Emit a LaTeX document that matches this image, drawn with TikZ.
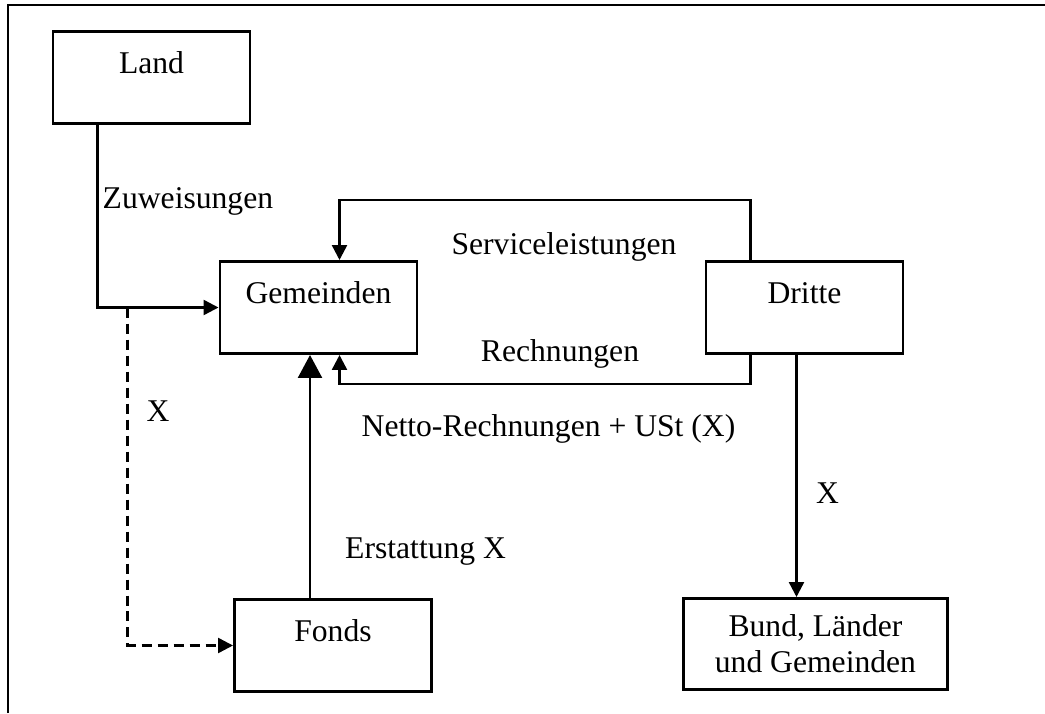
\documentclass[tikz,border=0pt]{standalone}
\usepackage{fontspec}
\setmainfont{Liberation Serif}
\usetikzlibrary{positioning,calc,arrows.meta}

\newcommand{\cellwidth}{3.94cm}
\newcommand{\widecellwidth}{5.28cm}
\newcommand{\lineoffset}{0.92cm}
\newcommand{\loopheight}{1.2cm}
\newcommand{\loopin}{2.42cm}

\tikzstyle{cell}=[draw=black,fill=white,shape=rectangle,line width=1.7pt,
                  minimum width=\cellwidth,inner ysep=0.2cm,
                  text height=0.64cm,text depth=0.8cm]
\tikzstyle{widecell}=[draw=black,fill=white,shape=rectangle,line width=1.7pt,
                      minimum width=\widecellwidth,minimum height=1.82cm,align=center]
\tikzstyle{flow}=[-{Triangle[length=0.3cm,width=0.3cm]},line width=1.4pt]
\tikzstyle{refund}=[-{Triangle[length=0.46cm,width=0.48cm]},line width=1.4pt]
\tikzstyle{tag}=[fill=none,draw=none,text=black]

\begin{document}
\begin{tikzpicture}[font=\fontsize{18}{20.5}\selectfont]
\useasboundingbox (0,0) rectangle (20.9,-14.26);
\draw [line width=1.7pt] (0.16,-14.26) |- (20.9,-0.1);

\node [cell] (gem) at (6.37,-6.15) {Gemeinden};
\node [cell, above=2.7cm of gem, xshift=-3.34cm] (land) {Land};
\node [cell, right=5.72cm of gem] (dritte) {Dritte};
\node [cell, below=4.86cm of gem, xshift=0.29cm] (fonds) {Fonds};
\node [widecell, below=4.84cm of dritte, xshift=0.22cm] (bund) {Bund, Länder\\und Gemeinden};

\draw [flow] (land.south west) ++(\lineoffset,0) |- (gem.west)
      node [tag, pos=0.21, right=0.08cm, inner sep=0pt] {Zuweisungen};
\draw [flow, dash pattern=on 0.2cm off 0.12cm] (gem.west) ++(-1.82cm,0) |- (fonds.west)
      node [tag, pos=0.153, right=0.36cm, inner sep=0pt] {X};

\draw [flow] (dritte.north west) ++(\lineoffset,0) |- ($(gem.north west)+(\loopin,\loopheight)$)
      -- ($(gem.north west)+(\loopin,0)$);
\draw [flow] (dritte.south west) ++(\lineoffset,0) |- ($(gem.south west)+(\loopin,-0.58)$)
      -- ($(gem.south west)+(\loopin,0)$);

\draw [refund] (fonds.north west) ++(1.54,0) coordinate (e0) -- (e0 |- gem.south)
      node [tag, pos=0.19, right=0.68cm, inner sep=0pt] {Erstattung X};
\draw [flow] (dritte.south west) ++(1.84,0) coordinate (d0) -- (d0 |- bund.north)
      node [tag, pos=0.57, right=0.37cm, inner sep=0pt] {X};

\node [tag] (svc) at (11.28,-4.93) {Serviceleistungen};
\node [tag] (rech) at (11.2,-7.08) {Rechnungen};
\node [tag] (netto) at (10.97,-8.58) {Netto-Rechnungen + USt (X)};
\end{tikzpicture}
\end{document}
